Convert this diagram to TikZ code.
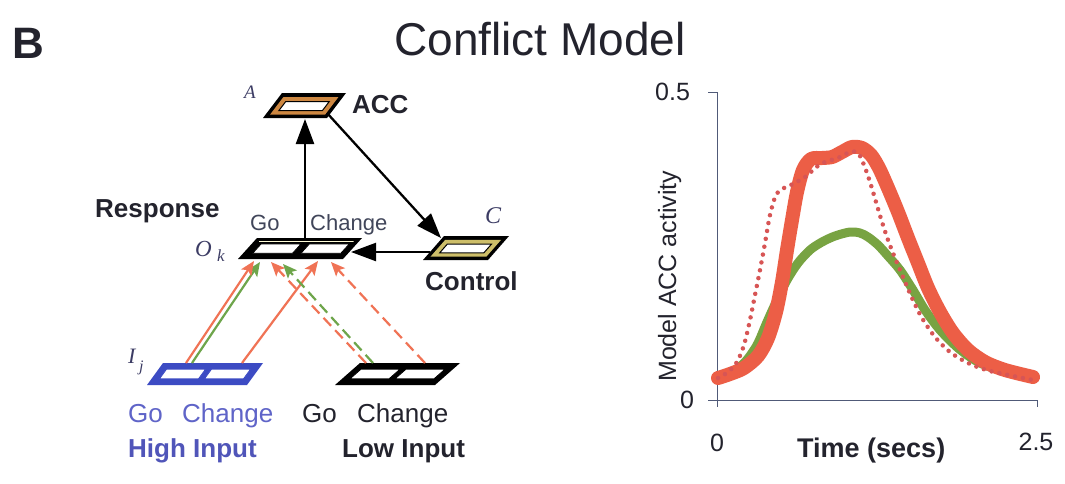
\documentclass[tikz,border=0pt]{standalone}
\usepackage{fontspec}
\setmainfont{Liberation Sans}
\newfontfamily\tms{Liberation Serif}
\usetikzlibrary{arrows.meta}
\newcommand\fsz[1]{\fontsize{#1}{#1}\selectfont}
\newcommand\pqpath[5]{\path[#1] (#2,#3)--(#4,#3)--(#4,#5)--(#2,#5)--cycle;}
\definecolor{txt}{RGB}{35,35,45}
\definecolor{blu}{RGB}{60,75,195}
\definecolor{blutxt}{RGB}{95,100,200}
\definecolor{hiblue}{RGB}{80,85,185}
\definecolor{slate}{RGB}{65,70,90}
\definecolor{accor}{RGB}{205,135,65}
\definecolor{ctrly}{RGB}{205,190,105}
\definecolor{lred}{RGB}{240,115,85}
\definecolor{lgreen}{RGB}{110,165,75}
\definecolor{cred}{RGB}{236,94,70}
\definecolor{cgreen}{RGB}{120,163,66}
\definecolor{dred}{RGB}{215,85,85}
\definecolor{axiscol}{RGB}{80,90,120}
\definecolor{labcol}{RGB}{60,60,100}
\begin{document}
\begin{tikzpicture}[x=1pt,y=-1pt,
  lbl/.style={inner sep=0pt, anchor=base west},
  bigarrow/.style={line width=2.3pt, draw=black, -{Triangle[length=25pt,width=18pt]}},
  inarr/.style={line width=2.2pt, -{Stealth[length=14pt,width=12pt,inset=3pt]}},
  dsh/.style={dash pattern=on 11pt off 6pt}]
\fill[white] (0,0) rectangle (1065,483);
\useasboundingbox (0,0) rectangle (1065,483);

% titles
\node[lbl, txt] (B) at (12,58) {\fsz{44}\bfseries B};
\node[inner sep=0pt, anchor=base, txt] (title) at (540,55) {\fsz{46}Conflict Model};

% ---------- tiles ----------
% ACC
\begin{scope}[shift={(263,118)}, x={(64pt,0pt)}, y={(19pt,25pt)}]
  \pqpath{fill=black}{0}{0}{1}{1}
  \pqpath{fill=accor}{0.07}{0.14}{0.93}{0.84}
  \pqpath{fill=white,draw=black,line width=1pt}{0.16}{0.3}{0.84}{0.66}
\end{scope}
% Response
\begin{scope}[shift={(238,259)}, x={(105pt,0pt)}, y={(19pt,21pt)}]
  \pqpath{fill=black}{0}{0}{1}{1}
  \pqpath{draw=white!85!yellow,line width=0.8pt}{0.05}{0.84}{0.95}{0.84}
  \pqpath{fill=white,draw=black,line width=0.8pt}{0.09}{0.27}{0.47}{0.72}
  \pqpath{fill=white,draw=black,line width=0.8pt}{0.55}{0.27}{0.93}{0.72}
\end{scope}
% Control
\begin{scope}[shift={(423,260)}, x={(65pt,0pt)}, y={(21pt,24pt)}]
  \pqpath{fill=black}{0}{0}{1}{1}
  \pqpath{fill=ctrly}{0.07}{0.14}{0.93}{0.84}
  \pqpath{fill=white,draw=black,line width=1pt}{0.16}{0.3}{0.84}{0.66}
\end{scope}
% High input
\begin{scope}[shift={(147,385)}, x={(100pt,0pt)}, y={(16pt,22pt)}]
  \pqpath{fill=blu}{0}{0}{1}{1}
  \pqpath{fill=white,draw=blu,line width=0.8pt}{0.08}{0.28}{0.47}{0.72}
  \pqpath{fill=white,draw=blu,line width=0.8pt}{0.53}{0.28}{0.92}{0.72}
\end{scope}
% Low input
\begin{scope}[shift={(335,385)}, x={(100pt,0pt)}, y={(25pt,22pt)}]
  \pqpath{fill=black}{0}{0}{1}{1}
  \pqpath{fill=white,draw=black,line width=0.8pt}{0.08}{0.28}{0.47}{0.72}
  \pqpath{fill=white,draw=black,line width=0.8pt}{0.53}{0.28}{0.92}{0.72}
\end{scope}

% ---------- connection points ----------
\coordinate (accB) at (305,119);
\coordinate (accR) at (327,113);
\coordinate (respT) at (305,240);
\coordinate (respR) at (351,252);
\coordinate (ctrlL) at (430,252);
\coordinate (ctrlTL) at (441,238);
\coordinate (hiGoR) at (186,363);
\coordinate (hiGoG) at (192,363);
\coordinate (hiCh) at (242,363);
\coordinate (loGoR) at (366,363);
\coordinate (loGoG) at (373,363);
\coordinate (loCh) at (425,363);
\coordinate (rGoA) at (254,261);
\coordinate (rGoB) at (260,262);
\coordinate (rGoC) at (271,262);
\coordinate (rGoD) at (283,264);
\coordinate (rChA) at (318,261);
\coordinate (rChB) at (331,262);

% big black arrows
\draw[bigarrow] (respT) -- (accB);
\draw[bigarrow] (accR) -- (ctrlTL);
\draw[bigarrow] (ctrlL) -- (respR);

% input arrows
\draw[inarr, lgreen] (hiGoG) -- (rGoB);
\draw[inarr, lred] (hiGoR) -- (rGoA);
\draw[inarr, lred] (hiCh) -- (rChA);
\draw[inarr, dsh, lred] (loGoR) -- (rGoC);
\draw[inarr, dsh, lgreen] (loGoG) -- (rGoD);
\draw[inarr, dsh, lred] (loCh) -- (rChB);

% ---------- labels ----------
\node[lbl, labcol] (labA) at (244,98) {\fsz{19}\tms\itshape A};
\node[lbl, txt] (accL) at (352,113) {\fsz{26}\bfseries ACC};
\node[lbl, txt] (respL) at (95,217) {\fsz{26}\bfseries Response};
\node[lbl, slate] (rgo) at (250,230) {\fsz{22}Go};
\node[lbl, slate] (rch) at (310,230) {\fsz{22}Change};
\node[lbl, labcol] (labO) at (195,256) {\fsz{23}\tms\itshape O};
\node[lbl, labcol] (labk) at (217,261) {\fsz{17}\tms\itshape k};
\node[lbl, labcol] (labC) at (485,223) {\fsz{24}\tms\itshape C};
\node[lbl, txt] (ctrlLab) at (425,290) {\fsz{26}\bfseries Control};
\node[lbl, labcol] (labI) at (128,363) {\fsz{22}\tms\itshape I};
\node[lbl, labcol] (labj) at (139,371) {\fsz{16}\tms\itshape j};
\node[lbl, blutxt] (hgo) at (128,422) {\fsz{26}Go};
\node[lbl, blutxt] (hch) at (182,422) {\fsz{26}Change};
\node[lbl, txt] (lgo) at (302,422) {\fsz{26}Go};
\node[lbl, txt] (lch) at (357,422) {\fsz{26}Change};
\node[lbl, hiblue] (hiLab) at (128,457) {\fsz{26}\bfseries High Input};
\node[lbl, txt] (loLab) at (342,457) {\fsz{26}\bfseries Low Input};

% ---------- graph ----------
\draw[axiscol, line width=1pt] (708,92) -- (717,92) -- (717,407);
\draw[axiscol, line width=1pt] (708,400) -- (1037,400) -- (1037,407);
\node[lbl, txt] (y05) at (655,100) {\fsz{25}0.5};
\node[lbl, txt] (y0) at (680,408) {\fsz{25}0};
\node[inner sep=0pt, anchor=base, txt] (x0) at (717,451) {\fsz{25}0};
\node[inner sep=0pt, anchor=base, txt] (x25) at (1036,450) {\fsz{25}2.5};
\node[lbl, txt] (xlab) at (797,457) {\fsz{27}\bfseries Time (secs)};
\node[lbl, txt, rotate=90] (ylab) at (676,382) {\fsz{25}Model ACC activity};

\draw[cgreen, line width=9pt, line cap=round, line join=round] plot[smooth] coordinates {
 (718,378) (732,372) (745,362) (757,345) (767,322) (777,300) (787,280) (798,263)
 (810,250) (822,242) (835,236) (850,232) (860,233) (868,237) (878,245) (888,256)
 (900,270) (913,290) (925,310) (940,330) (958,348) (978,362) (1000,370) (1033,376)};
\draw[cred, line width=14pt, line cap=round, line join=round] plot[smooth] coordinates {
 (718,378) (730,374) (744,368) (758,356) (768,338) (776,312) (782,282) (787,250)
 (792,220) (797,192) (803,170) (811,159) (822,158) (832,157) (842,152) (852,147)
 (862,148) (871,155) (879,168) (888,188) (898,212) (908,238) (918,263) (928,288)
 (940,312) (953,333) (968,350) (985,362) (1005,370) (1033,377)};
\draw[dred, line width=4.5pt, line cap=round, dash pattern=on 0pt off 8pt] plot[smooth] coordinates {
 (718,378) (728,372) (737,362) (744,345) (750,320) (755,295) (760,270) (765,243)
 (770,215) (776,195) (784,188) (793,184) (800,180) (808,175) (815,168) (825,162)
 (838,158) (850,152) (858,153) (864,165) (870,182) (876,202) (882,222) (888,240)
 (895,258) (903,277) (912,298) (922,318) (935,337) (950,352) (968,363) (990,371) (1033,380)};
\end{tikzpicture}
\end{document}
